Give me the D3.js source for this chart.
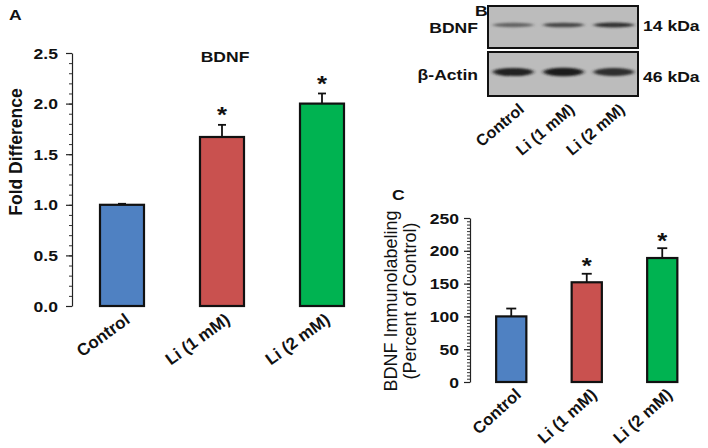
<!doctype html>
<html>
<head>
<meta charset="utf-8">
<script src="https://d3js.org/d3.v7.min.js"></script>
<style>
body { margin: 0; background: white; }
text { font-family: "Liberation Sans", Arial, sans-serif; fill: #111; }
</style>
</head>
<body>
<svg id="fig" width="708" height="448"></svg>
<script>
// ---- data ----
var groups = ["Control", "Li (1 mM)", "Li (2 mM)"];
var colors = ["#4f81c2", "#c9514f", "#00b351"];

var foldMean = [1.0, 1.67, 2.0];
var foldErr = [0.01, 0.12, 0.10];
var foldStar = [false, true, true];
var foldTicks = [0.0, 0.5, 1.0, 1.5, 2.0, 2.5];

var immMean = [100, 152, 189];
var immErr = [12, 13, 15];
var immStar = [false, true, true];
var immTicks = [0, 50, 100, 150, 200, 250];

// blot band darkness per lane
var bdnfBand = [0.55, 0.72, 0.85];
var actinBand = [0.95, 1.0, 0.88];

var svg = d3.select("#fig");
var SX = 1.17; // the figure is a bit stretched horizontally

function htext(g, x, y, str, size, anchor, weight) {
  return g.append("text")
    .attr("transform", "translate(" + x + "," + y + ") scale(" + SX + ",1)")
    .attr("text-anchor", anchor || "start")
    .style("font-size", size + "px")
    .style("font-weight", weight || "bold")
    .text(str);
}

// generic bar panel
function barPanel(opt) {
  var g = svg.append("g");
  var y = d3.scaleLinear().domain(opt.domain).range([opt.y0, opt.y1]);
  var x = d3.scaleBand().domain(groups).range(opt.xr)
    .paddingInner(opt.pad).paddingOuter(opt.pad / 2);

  // minor ticks
  g.append("g")
    .attr("transform", "translate(" + opt.ax + ",0)")
    .call(d3.axisLeft(y).tickValues(d3.range(opt.domain[0], opt.domain[1] + opt.minor / 2, opt.minor)).tickSize(3).tickFormat(""))
    .call(function(a) { a.select(".domain").remove(); a.selectAll("line").attr("stroke", "#333"); });

  var axis = g.append("g")
    .attr("transform", "translate(" + opt.ax + ",0)")
    .call(d3.axisLeft(y).tickValues(opt.ticks).tickSize(6).tickSizeOuter(0).tickFormat(opt.fmt));
  axis.select(".domain").attr("stroke", "#222").attr("stroke-width", 1.2);
  axis.selectAll("line").attr("stroke", "#222").attr("stroke-width", 1.2);
  axis.selectAll("text").remove();
  opt.ticks.forEach(function(t) {
    htext(g, opt.ax - opt.tgap, y(t) + 5.5, opt.fmt(t), 15, "end");
  });

  // bars
  g.selectAll("rect.bar").data(opt.mean).enter().append("rect")
    .attr("class", "bar")
    .attr("x", function(d, i) { return x(groups[i]); })
    .attr("width", x.bandwidth())
    .attr("y", function(d) { return y(d); })
    .attr("height", function(d) { return y(0) - y(d); })
    .attr("fill", function(d, i) { return colors[i]; })
    .attr("stroke", "#111")
    .attr("stroke-width", 2.2);

  // error bars
  opt.mean.forEach(function(m, i) {
    var cx = x(groups[i]) + x.bandwidth() / 2;
    var top = y(m + opt.err[i]);
    g.append("line").attr("x1", cx).attr("x2", cx).attr("y1", y(m)).attr("y2", top)
      .attr("stroke", "#111").attr("stroke-width", 1.8);
    g.append("line").attr("x1", cx - opt.cap).attr("x2", cx + opt.cap).attr("y1", top).attr("y2", top)
      .attr("stroke", "#111").attr("stroke-width", 1.8);
    if (opt.star[i]) {
      htext(g, cx, top - opt.sgap, "*", 22, "middle").attr("dy", "0.2em");
    }
    g.append("text")
      .attr("transform", "translate(" + (cx + opt.lx) + "," + (y(0) + opt.ly) + ") rotate(" + opt.rot + ")")
      .attr("text-anchor", "end")
      .style("font-size", opt.lsize + "px")
      .style("font-weight", "bold")
      .text(groups[i]);
  });
  return g;
}

// ---- panel A ----
var gA = barPanel({
  domain: [0, 2.5], y0: 306, y1: 53, ax: 72, xr: [72, 372], pad: 0.56,
  ticks: foldTicks, minor: 0.1, fmt: d3.format(".1f"), tgap: 14,
  mean: foldMean, err: foldErr, star: foldStar, cap: 4, sgap: 7,
  lx: 9, ly: 16, rot: -36, lsize: 17
});
htext(gA, 9, 20, "A", 15, "start");
htext(gA, 225, 62, "BDNF", 15, "middle");
gA.append("text")
  .attr("transform", "translate(22,152) rotate(-90)")
  .attr("text-anchor", "middle")
  .style("font-size", "17.5px").style("font-weight", "bold")
  .text("Fold Difference");

// ---- panel C ----
var gC = barPanel({
  domain: [0, 250], y0: 382, y1: 218, ax: 470, xr: [473.5, 700], pad: 0.6,
  ticks: immTicks, minor: 5, fmt: d3.format("d"), tgap: 11,
  mean: immMean, err: immErr, star: immStar, cap: 5, sgap: 5,
  lx: 11, ly: 14, rot: -42, lsize: 16.5
});
htext(gC, 392, 200, "C", 15, "start");
gC.append("text")
  .attr("transform", "translate(397,301) rotate(-90)")
  .attr("text-anchor", "middle")
  .style("font-size", "18px")
  .text("BDNF Immunolabeling");
gC.append("text")
  .attr("transform", "translate(416,301) rotate(-90)")
  .attr("text-anchor", "middle")
  .style("font-size", "18px")
  .text("(Percent of Control)");

// ---- panel B (blot) ----
var gB = svg.append("g");
var defs = svg.append("defs");
defs.append("filter").attr("id", "blur").attr("x", "-30%").attr("y", "-100%").attr("width", "160%").attr("height", "300%")
  .append("feGaussianBlur").attr("stdDeviation", "2.2 1.3");

var lane = d3.scaleBand().domain(groups).range([489, 638]).paddingInner(0.2).paddingOuter(0.08);
var boxes = [
  { name: "BDNF", kda: "14 kDa", y: 6, h: 42, bands: bdnfBand, by: 25, bh: 2.6, ky: 25 },
  { name: "\u03b2-Actin", kda: "46 kDa", y: 52, h: 44, bands: actinBand, by: 72, bh: 4.2, ky: 76 }
];
boxes.forEach(function(b) {
  gB.append("rect").attr("x", 488).attr("y", b.y).attr("width", 150).attr("height", b.h)
    .attr("fill", "#bcbcbc").attr("stroke", "#111").attr("stroke-width", 2);
  var band = gB.append("g").attr("filter", "url(#blur)");
  b.bands.forEach(function(v, i) {
    band.append("ellipse")
      .attr("cx", lane(groups[i]) + lane.bandwidth() / 2)
      .attr("cy", b.by)
      .attr("rx", lane.bandwidth() / 2)
      .attr("ry", b.bh * (0.6 + 0.4 * v))
      .attr("fill", d3.interpolateRgb("#bcbcbc", "#1a1a1a")(v));
  });
  htext(gB, 478, b.y + b.h / 2 + 5.5, b.name, 15, "end");
  htext(gB, 643, b.ky + 5.5, b.kda, 15, "start");
});
htext(gB, 475, 16, "B", 15, "start");
groups.forEach(function(gname, i) {
  var cx = lane(gname) + lane.bandwidth() / 2;
  gB.append("text")
    .attr("transform", "translate(" + (cx + 12) + ",111) rotate(-40)")
    .attr("text-anchor", "end")
    .style("font-size", "16px").style("font-weight", "bold")
    .text(gname);
});
</script>
</body>
</html>
